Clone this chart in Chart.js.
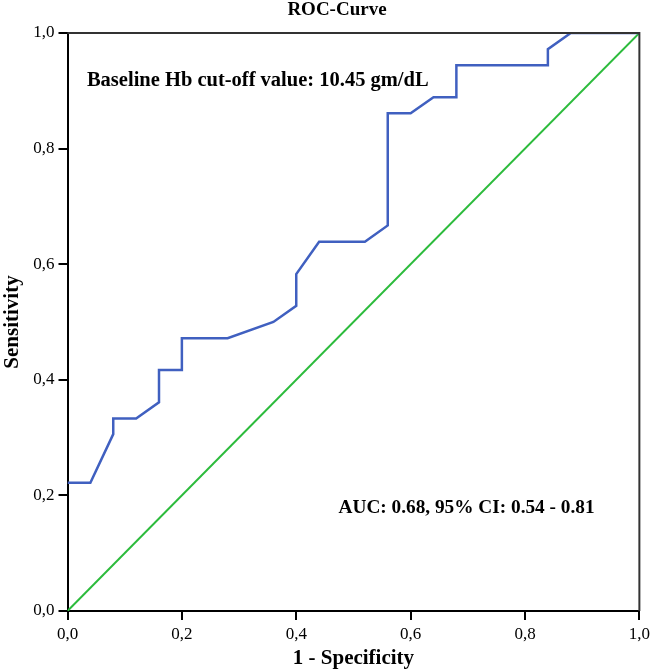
<!DOCTYPE html>
<html>
<head>
<meta charset="utf-8">
<script src="https://cdn.jsdelivr.net/npm/chart.js@4.4.1/dist/chart.umd.min.js"></script>
<style>
  html, body { margin: 0; padding: 0; background: #fff; }
  canvas { display: block; }
</style>
</head>
<body>
<canvas id="rocChart" width="654" height="671"></canvas>
<script>
// ROC curve points (1 - specificity, sensitivity)
const fpr = [0, 0.04, 0.08, 0.08, 0.12, 0.16, 0.16, 0.20, 0.20, 0.28, 0.36, 0.40, 0.40,
             0.44, 0.52, 0.56, 0.56, 0.60, 0.64, 0.68, 0.68, 0.84, 0.84, 0.88, 1.0];
const sensitivity = [0.222, 0.222, 0.306, 0.333, 0.333, 0.361, 0.417, 0.417, 0.472, 0.472,
                     0.500, 0.528, 0.583, 0.639, 0.639, 0.667, 0.861, 0.861, 0.889, 0.889,
                     0.944, 0.944, 0.972, 1.0, 1.0];
const refX = [0, 1];
const refY = [0, 1];

const tickValues = [0, 0.2, 0.4, 0.6, 0.8, 1.0];
const tickLabels = ['0,0', '0,2', '0,4', '0,6', '0,8', '1,0'];

const chartTitle = 'ROC-Curve';
const cutoffNote = 'Baseline Hb cut-off value: 10.45 gm/dL';
const aucNote = 'AUC: 0.68, 95% CI: 0.54 - 0.81';

const serif = 'Liberation Serif';

const toPoints = (xs, ys) => xs.map((x, i) => ({ x: x, y: ys[i] }));

// top/right frame, title and the two notes
const decorations = {
    id: 'decorations',
    afterDraw(chart) {
        const { ctx, chartArea: a, scales } = chart;
        ctx.save();
        ctx.strokeStyle = '#333';
        ctx.lineWidth = 2;
        ctx.beginPath();
        ctx.moveTo(a.left, a.top);
        ctx.lineTo(a.right, a.top);
        ctx.lineTo(a.right, a.bottom);
        ctx.stroke();

        ctx.fillStyle = '#000';
        ctx.textBaseline = 'middle';
        ctx.textAlign = 'center';
        ctx.font = 'bold 19px "' + serif + '"';
        ctx.fillText(chartTitle, 337, 10);

        ctx.textAlign = 'left';
        ctx.font = 'bold 20.5px "' + serif + '"';
        ctx.fillText(cutoffNote, scales.x.getPixelForValue(0.034), scales.y.getPixelForValue(0.917));
        ctx.font = 'bold 19.3px "' + serif + '"';
        ctx.fillText(aucNote, scales.x.getPixelForValue(0.474), scales.y.getPixelForValue(0.179));
        ctx.restore();
    }
};

const axisCommon = {
    type: 'linear',
    min: 0,
    max: 1,
    afterBuildTicks: s => { s.ticks = tickValues.map(v => ({ value: v })); },
    grid: { drawOnChartArea: false, drawTicks: true, tickLength: 9, color: '#000', lineWidth: 2 },
    border: { display: true, color: '#000', width: 2 },
    ticks: {
        color: '#000',
        font: { family: serif, size: 17 },
        padding: 4,
        maxRotation: 0,
        autoSkip: false,
        callback: (value, index) => tickLabels[index]
    }
};

new Chart(document.getElementById('rocChart'), {
    type: 'scatter',
    data: {
        datasets: [
            {
                label: 'ROC',
                data: toPoints(fpr, sensitivity),
                showLine: true,
                borderColor: '#4060c0',
                borderWidth: 2.5,
                pointRadius: 0,
                tension: 0
            },
            {
                label: 'Reference',
                data: toPoints(refX, refY),
                showLine: true,
                borderColor: '#2cbb3c',
                borderWidth: 2,
                pointRadius: 0,
                tension: 0
            }
        ]
    },
    options: {
        responsive: false,
        devicePixelRatio: 1,
        animation: false,
        layout: { padding: { top: 33, right: 12, left: 0, bottom: 0 } },
        plugins: {
            legend: { display: false },
            tooltip: { enabled: false },
            title: { display: false }
        },
        scales: {
            x: Object.assign({}, axisCommon, {
                position: 'bottom',
                title: {
                    display: true,
                    text: '1 - Specificity',
                    color: '#000',
                    font: { family: serif, size: 21, weight: 'bold' },
                    padding: { top: 0, bottom: 0 }
                },
                afterFit: s => { s.height = 60; }
            }),
            y: Object.assign({}, axisCommon, {
                position: 'left',
                title: {
                    display: true,
                    text: 'Sensitivity',
                    color: '#000',
                    font: { family: serif, size: 21, weight: 'bold' },
                    padding: 0
                },
                afterFit: s => { s.width = 67.5; }
            })
        }
    },
    plugins: [decorations]
});
</script>
</body>
</html>
